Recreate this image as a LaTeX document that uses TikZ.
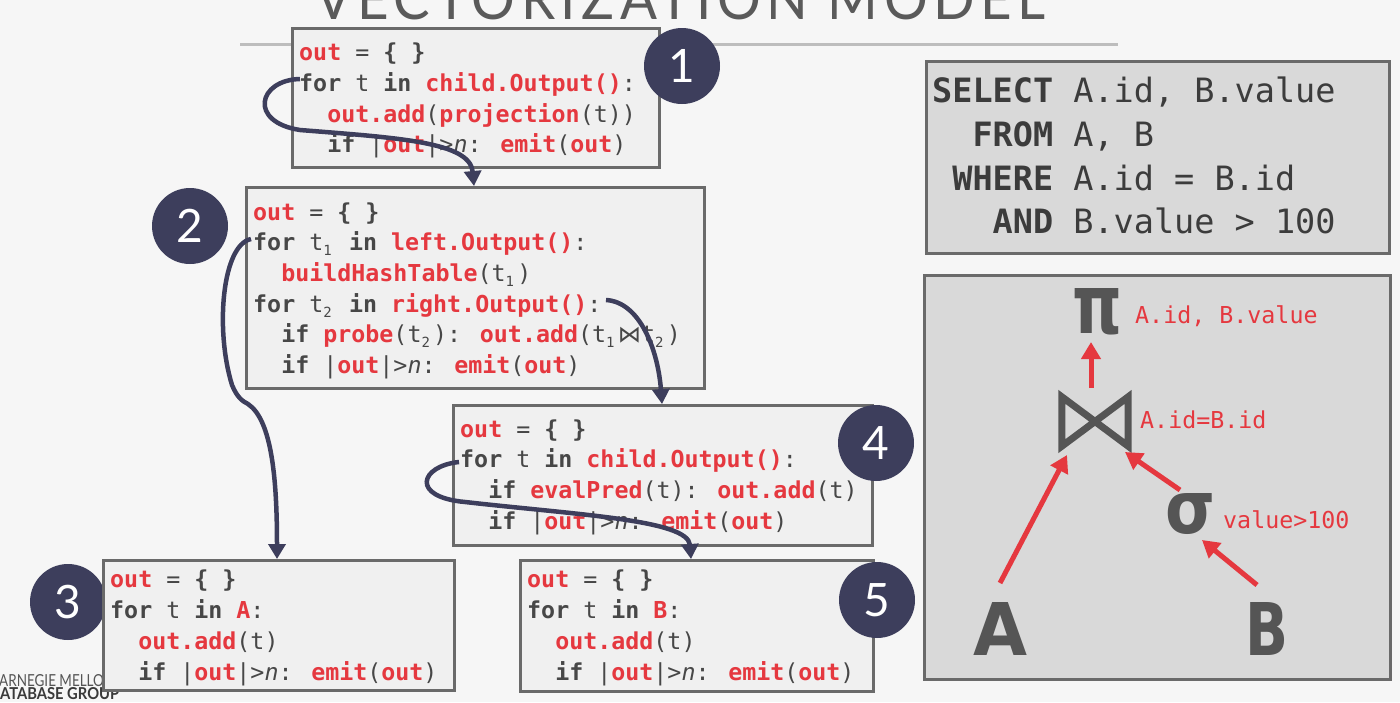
\documentclass[tikz,border=0pt]{standalone}
\usepackage{fontspec}
\usepackage{graphicx}
\usetikzlibrary{arrows.meta}
\newfontfamily\codefont{DejaVu Sans Mono}
\newfontfamily\latof{Lato}
\newfontfamily\titlef[LetterSpace=10]{Lato}
\newfontfamily\djs{DejaVu Sans}
\definecolor{cred}{HTML}{E5383F}
\definecolor{ctext}{HTML}{474747}
\definecolor{cnavy}{HTML}{3D3E5C}
\definecolor{cbg}{HTML}{F6F6F6}
\definecolor{cbox}{HTML}{F0F0F0}
\definecolor{cborder}{HTML}{6A6A6A}
\definecolor{csql}{HTML}{D9D9D9}
\definecolor{csym}{HTML}{555555}
\definecolor{cline}{HTML}{BDBDBD}
\definecolor{ctitle}{HTML}{5A5A5A}
\newcommand\Rd[1]{\textcolor{cred}{\bfseries #1}}
\newcommand\Kw[1]{{\bfseries #1}}
\newcommand\Sb[1]{\makebox[0.5em][l]{\raisebox{-0.45ex}{\fontsize{14}{14}\selectfont #1}}}
\begin{document}
\begin{tikzpicture}[x=1pt,y=-1pt,
  code/.style={anchor=base west, inner sep=0, text=ctext, font=\codefont\fontsize{23.3}{28}\selectfont},
  sql/.style={anchor=base west, inner sep=0, text=ctext!85!black, font=\codefont\fontsize{33.5}{40}\selectfont},
  lbl/.style={anchor=base west, inner sep=0, text=cred, font=\codefont\fontsize{23.3}{28}\selectfont},
  codebox/.style={draw=cborder, line width=3pt, fill=cbox, anchor=north west, inner sep=0},
  graybox/.style={draw=cborder, line width=3pt, fill=csql, anchor=north west, inner sep=0},
  num/.style={circle, fill=cnavy, minimum size=76pt, inner sep=0, text=white, font=\latof\fontsize{46}{46}\selectfont},
  flow/.style={cnavy, line width=4.5pt, -{Triangle[length=15pt,width=17pt]}},
  rel/.style={cred, line width=5pt, -{Triangle[length=17pt,width=19pt]}},
  sym/.style={anchor=base west, inner sep=0, text=csym}]
\useasboundingbox (0,0) rectangle (1400,702);
\fill[cbg] (0,0) rectangle (1400,702);
% title
\draw[cline, line width=3pt] (240,44) -- (1118,44);
\node[anchor=base west, inner sep=0, text=ctitle] (title) at (315,19) {\resizebox{730pt}{42pt}{\titlef VECTORIZATION MODEL}};
% logo
\node[anchor=base west, inner sep=0, text=csym] (logo1) at (-10,686) {\resizebox{124pt}{12pt}{\latof CARNEGIE MELLON}};
\node[anchor=base west, inner sep=0, text=ctext!80!black] (logo2) at (-11,699) {\resizebox{130pt}{12pt}{\latof\bfseries DATABASE GROUP}};

% box 1
\node[codebox, minimum width=367pt, minimum height=139pt] (b1) at (291,27) {};
\node[code] (b1a) at (299,60) {\Rd{out} = \Kw{\{ \}}};
\node[code] (b1b) at (299,91) {\Kw{for} t \Kw{in} \Rd{child.Output()}:};
\node[code] (b1c) at (299,122) {\phantom{xx}\Rd{out.add}(\Rd{projection}(t))};
\node[code] (b1d) at (299,152) {\phantom{xx}\Kw{if} |\Rd{out}|>\textit{n}: \Rd{emit}(\Rd{out})};
\node[num] (n1) at (682,66) {1};

% box 2
\node[codebox, minimum width=458pt, minimum height=201pt] (b2) at (245,186) {};
\node[code] (b2a) at (253,220) {\Rd{out} = \Kw{\{ \}}};
\node[code] (b2b) at (253,250) {\Kw{for} t\Sb{1} \Kw{in} \Rd{left.Output()}:};
\node[code] (b2c) at (253,281) {\phantom{xx}\Rd{buildHashTable}(t\Sb{1})};
\node[code] (b2d) at (253,312) {\Kw{for} t\Sb{2} \Kw{in} \Rd{right.Output()}:};
\node[code] (b2e) at (253,342) {\phantom{xx}\Kw{if} \Rd{probe}(t\Sb{2}): \Rd{out.add}(t\Sb{1}{\djs ⋈}t\Sb{2})};
\node[code] (b2f) at (253,373) {\phantom{xx}\Kw{if} |\Rd{out}|>\textit{n}: \Rd{emit}(\Rd{out})};
\node[num] (n2) at (190,226) {2};

% box 4
\node[codebox, minimum width=419pt, minimum height=140pt] (b4) at (452,404) {};
\node[code] (b4a) at (460,437) {\Rd{out} = \Kw{\{ \}}};
\node[code] (b4b) at (460,467) {\Kw{for} t \Kw{in} \Rd{child.Output()}:};
\node[code] (b4c) at (460,498) {\phantom{xx}\Kw{if} \Rd{evalPred}(t): \Rd{out.add}(t)};
\node[code] (b4d) at (460,529) {\phantom{xx}\Kw{if} |\Rd{out}|>\textit{n}: \Rd{emit}(\Rd{out})};
\node[num] (n4) at (876,443) {4};

% box 3
\node[num] (n3) at (68,602) {3};
\node[codebox, minimum width=351pt, minimum height=130pt] (b3) at (102,559) {};
\node[code] (b3a) at (110,587) {\Rd{out} = \Kw{\{ \}}};
\node[code] (b3b) at (110,618) {\Kw{for} t \Kw{in} \Rd{A}:};
\node[code] (b3c) at (110,649) {\phantom{xx}\Rd{out.add}(t)};
\node[code] (b3d) at (110,680) {\phantom{xx}\Kw{if} |\Rd{out}|>\textit{n}: \Rd{emit}(\Rd{out})};

% box 5
\node[codebox, minimum width=353pt, minimum height=131pt] (b5) at (519,559) {};
\node[code] (b5a) at (527,587) {\Rd{out} = \Kw{\{ \}}};
\node[code] (b5b) at (527,618) {\Kw{for} t \Kw{in} \Rd{B}:};
\node[code] (b5c) at (527,649) {\phantom{xx}\Rd{out.add}(t)};
\node[code] (b5d) at (527,680) {\phantom{xx}\Kw{if} |\Rd{out}|>\textit{n}: \Rd{emit}(\Rd{out})};
\node[num] (n5) at (877,600) {5};

% SQL box
\node[graybox, minimum width=463pt, minimum height=192pt] (sqlbox) at (925,60) {};
\node[sql] (s1) at (932,102) {\Kw{SELECT} A.id, B.value};
\node[sql] (s2) at (932,146) {\phantom{xx}\Kw{FROM} A, B};
\node[sql] (s3) at (932,190) {\phantom{x}\Kw{WHERE} A.id = B.id};
\node[sql] (s4) at (932,233) {\phantom{xxx}\Kw{AND} B.value > 100};

% tree box
\node[graybox, minimum width=466pt, minimum height=404pt] (treebox) at (923,274) {};
\node[sym] (pi) at (1072,333) {\resizebox{50pt}{45pt}{\djs\bfseries π}};
\node[lbl] (pil) at (1135,323) {A.id, B.value};
\node[minimum width=66pt, minimum height=49pt, inner sep=0] (join) at (1095,421.5) {};
\draw[csym, line width=7pt, line join=miter] (join.north west) -- (join.south east) -- (join.north east) -- (join.south west) -- cycle;
\node[lbl] (joinl) at (1140,428) {A.id=B.id};
\node[sym] (sigma) at (1165,533) {\resizebox{50pt}{40pt}{\djs\bfseries σ}};
\node[lbl] (sigmal) at (1223,528) {value>100};
\node[sym] (relA) at (973,655) {\resizebox{54pt}{53pt}{\djs\bfseries A}};
\node[sym] (relB) at (1245,655) {\resizebox{43pt}{53pt}{\djs\bfseries B}};
\coordinate (jtop) at (1091,388);
\coordinate (pibot) at (1091,342);
\coordinate (atop) at (1000,583);
\coordinate (jleft) at (1067,455);
\coordinate (stop) at (1180,490);
\coordinate (jright) at (1125,452);
\coordinate (btop) at (1257,585);
\coordinate (sbot) at (1202,540);
\draw[rel] (jtop) -- (pibot);
\draw[rel] (atop) -- (jleft);
\draw[rel] (stop) -- (jright);
\draw[rel] (btop) -- (sbot);

% control-flow arrows
\coordinate (a1s) at (300,79);
\coordinate (a1e) at (474,186);
\draw[flow] (a1s) .. controls (258,80) and (248,122) .. (300,130) .. controls (400,138) and (470,142) .. (a1e);
\coordinate (a2s) at (251,239);
\coordinate (a2e) at (277,559);
\draw[flow] (a2s) .. controls (222,245) and (215,330) .. (232,385) .. controls (237,397) and (242,401) .. (248,404) .. controls (272,420) and (277,480) .. (a2e);
\coordinate (a3s) at (606,300);
\coordinate (a3e) at (662,404);
\draw[flow] (a3s) .. controls (640,302) and (658,350) .. (a3e);
\coordinate (a4s) at (459,462);
\coordinate (a4e) at (691,559);
\draw[flow] (a4s) .. controls (420,466) and (410,497) .. (465,502) .. controls (580,515) and (688,520) .. (a4e);
\end{tikzpicture}
\end{document}
